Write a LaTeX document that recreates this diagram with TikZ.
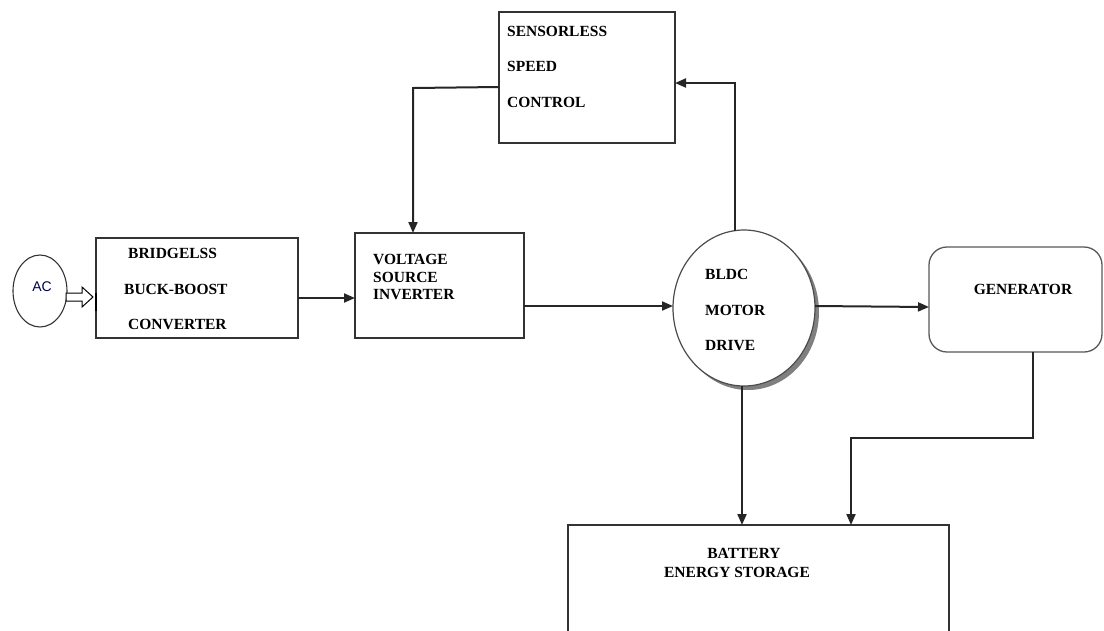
\documentclass[tikz,border=0pt]{standalone}
\usepackage{fontspec}
\setmainfont{Liberation Serif}
\newfontfamily\acfont{Liberation Sans}
\usetikzlibrary{arrows.meta,shapes.geometric}
\begin{document}
\begin{tikzpicture}[x=1pt,y=-1pt,
  line/.style={draw=black!85, line width=2pt},
  arr/.style={line, -{Triangle[length=11pt,width=9pt]}},
  box/.style={draw=black!80, line width=1.4pt, fill=white},
  lbl/.style={font=\fontsize{15.5}{16}\selectfont\bfseries, anchor=west, inner sep=0pt},
  clbl/.style={font=\fontsize{15.5}{16}\selectfont\bfseries, inner sep=0pt}
]
\useasboundingbox (0,0) rectangle (1104,630);
\fill[white] (0,0) rectangle (1104,630);

% AC source
\node[draw=black!80, line width=1.1pt, ellipse, minimum width=54pt, minimum height=72pt, inner sep=0pt] (ac) at (40,291) {};
\node[font=\acfont\fontsize{14}{15}\selectfont, text=black!70!blue] at (42,287) {AC};
\draw[line width=1pt, fill=white] (66,293) -- (82,293) -- (82,287) -- (93,297) -- (82,307) -- (82,301) -- (66,301) -- cycle;

% Bridgeless converter
\draw[box] (96,238) rectangle (298,338);
\coordinate (brin) at (96,298);
\coordinate (brout) at (298,298);
\draw[line width=2.5pt] (96,293) -- (96,311);
\node[lbl] at (128,253) {BRIDGELSS};
\node[lbl] at (124,289) {BUCK-BOOST};
\node[lbl] at (128,324) {CONVERTER};

% VSI
\draw[box] (355,233) rectangle (524,338);
\coordinate (vsiin) at (355,298);
\coordinate (vsiout) at (524,306);
\coordinate (vsitop) at (413,233);
\node[lbl] at (373,259) {VOLTAGE};
\node[lbl] at (373,277) {SOURCE};
\node[lbl] at (373,295) {INVERTER};

% Sensorless speed control
\draw[box] (499,12) rectangle (675,143);
\coordinate (scleft) at (499,87);
\coordinate (scright) at (675,83);
\node[lbl] at (507,31) {SENSORLESS};
\node[lbl] at (507,66) {SPEED};
\node[lbl] at (507,102) {CONTROL};

% BLDC motor
\fill[black!50] (748,312) ellipse (71pt and 78pt);
\draw[draw=black!70, line width=1.2pt, fill=white] (744,308) ellipse (71pt and 78pt);
\coordinate (mleft) at (673,306);
\coordinate (mright) at (815,306);
\coordinate (mtop) at (735,231);
\coordinate (mbot) at (742,386);
\node[lbl] at (705,274) {BLDC};
\node[lbl] at (705,310) {MOTOR};
\node[lbl] at (705,346) {DRIVE};

% Generator
\draw[draw=black!65, line width=1.3pt, fill=white, rounded corners=18pt] (929,247) rectangle (1102,352);
\coordinate (genin) at (929,307);
\coordinate (genbot) at (1033,352);
\node[clbl] at (1023,289) {GENERATOR};

% Battery
\draw[box] (568,640) -- (568,525) -- (949,525) -- (949,640);
\coordinate (bat1) at (742,525);
\coordinate (bat2) at (851,525);
\node[clbl] at (744,553) {BATTERY};
\node[clbl] at (737,572) {ENERGY STORAGE};

% connectors
\draw[arr] (brout) -- (vsiin);
\draw[arr] (vsiout) -- (mleft);
\draw[arr] (mright) -- (genin);
\draw[arr] (mtop) -- (735,83) -- (scright);
\draw[arr] (scleft) -- (413,88) -- (vsitop);
\draw[arr] (mbot) -- (bat1);
\draw[arr] (genbot) -- (1033,438) -- (851,438) -- (bat2);
\end{tikzpicture}
\end{document}
